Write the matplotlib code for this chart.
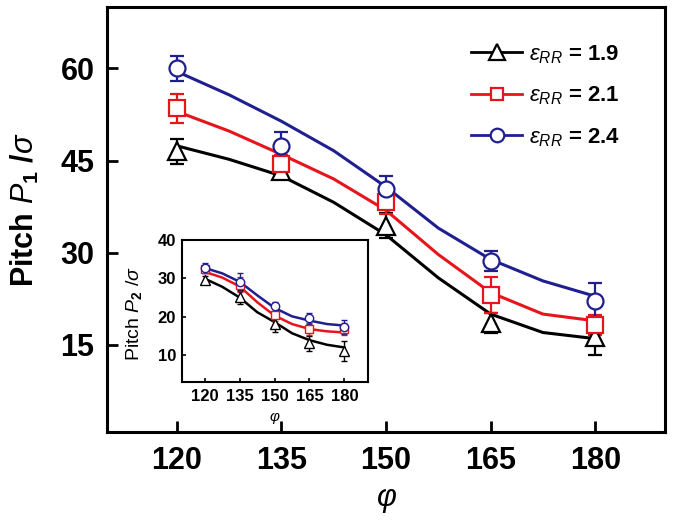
import matplotlib
matplotlib.use('Agg')
import matplotlib.pyplot as plt
from matplotlib.lines import Line2D

plt.rcParams['font.family'] = 'Liberation Sans'
plt.rcParams['mathtext.fontset'] = 'custom'
plt.rcParams['mathtext.it'] = 'Liberation Sans:italic:bold'
plt.rcParams['mathtext.rm'] = 'Liberation Sans:bold'
plt.rcParams['mathtext.bf'] = 'Liberation Sans:bold'

# --- data ---
phi = [120, 135, 150, 165, 180]
phi_fit = [120, 127.5, 135, 142.5, 150, 157.5, 165, 172.5, 180]
eps_labels = ['1.9', '2.1', '2.4']

# main panel: pitch P1 / sigma
p1_19 = [46.5, 43.3, 34.4, 18.6, 16.3]
p1_21 = [53.5, 44.4, 38.2, 23.1, 18.2]
p1_24 = [60.0, 47.3, 40.3, 28.6, 22.2]
p1_19_err = [2.0, 1.0, 2.0, 1.6, 3.0]
p1_21_err = [2.4, 1.5, 1.9, 3.0, 1.6]
p1_24_err = [2.0, 2.3, 2.2, 1.6, 2.8]
p1_19_fit = [47.4, 45.2, 42.5, 38.2, 32.9, 25.9, 20.0, 17.0, 16.0]
p1_21_fit = [53.0, 49.8, 46.0, 42.0, 36.9, 29.7, 23.5, 20.0, 18.9]
p1_24_fit = [59.5, 55.7, 51.4, 46.6, 40.7, 34.0, 28.9, 25.4, 22.9]

# inset: pitch P2 / sigma
p2_19 = [29.7, 25.1, 18.1, 13.1, 11.1]
p2_21 = [32.4, 28.4, 20.4, 16.8, 16.8]
p2_24 = [32.7, 29.1, 22.9, 19.6, 17.3]
p2_19_err = [0.8, 1.9, 2.2, 2.0, 2.6]
p2_21_err = [1.0, 2.0, 1.5, 1.5, 1.5]
p2_24_err = [1.3, 2.4, 1.0, 1.5, 1.8]
p2_19_fit = [29.9, 27.8, 25.0, 21.2, 18.6, 15.7, 13.9, 12.7, 12.0]
p2_21_fit = [31.7, 30.2, 27.9, 23.8, 20.3, 18.1, 16.8, 16.2, 15.9]
p2_24_fit = [32.7, 31.3, 29.1, 25.6, 22.3, 20.1, 19.0, 18.1, 17.7]

colors = ['black', '#e8141c', '#1f1f8f']
markers = ['^', 's', 'o']

fig = plt.figure(figsize=(6.75, 5.25), dpi=100)
ax = fig.add_axes([0.1585, 0.1771, 0.8267, 0.8096])

main_pts = [p1_19, p1_21, p1_24]
main_err = [p1_19_err, p1_21_err, p1_24_err]
main_fit = [p1_19_fit, p1_21_fit, p1_24_fit]
main_ms = [13, 11, 11.5]

for i in range(3):
    ax.plot(phi_fit, main_fit[i], color=colors[i], lw=2.2, zorder=2)
for i in range(3):
    ax.errorbar(phi, main_pts[i], yerr=main_err[i], fmt=markers[i], color=colors[i],
                mfc='white', mec=colors[i], mew=1.6, ms=main_ms[i],
                elinewidth=1.6, capsize=5, capthick=1.6, zorder=3)

ax.set_xlim(110, 190)
ax.set_ylim(0.8, 70)
ax.set_xticks(phi)
ax.set_yticks([15, 30, 45, 60])
ax.tick_params(direction='in', length=8, width=2, labelsize=22)
ax.tick_params(axis='y', pad=9)
ax.tick_params(axis='x', pad=10)
for lab in ax.get_xticklabels() + ax.get_yticklabels():
    lab.set_fontweight('bold')
for sp in ax.spines.values():
    sp.set_linewidth(2.2)

ax.set_xlabel(r'$\varphi$', fontsize=22)
ax.xaxis.set_label_coords(0.5, -0.125)
ax.set_ylabel(r'Pitch $P_{1}$ /$\sigma$', fontsize=22, fontweight='bold')
ax.yaxis.set_label_coords(-0.118, 0.522)

handles = []
for i in range(3):
    handles.append(Line2D([], [], color=colors[i], lw=2, marker=markers[i],
                          mfc='white', mec=colors[i], mew=1.6, ms=main_ms[i] * 0.85))
leg_labels = [r'$\varepsilon_{RR}$ = ' + e for e in eps_labels]
leg = ax.legend(handles, leg_labels, loc='upper left', frameon=False,
                bbox_to_anchor=(0.653, 0.915), fontsize=16, handlelength=2.3,
                handletextpad=0.3, labelspacing=0.85, borderpad=0, borderaxespad=0)
for t in leg.get_texts():
    t.set_fontweight('bold')

# inset
ins = fig.add_axes([0.269, 0.2724, 0.2756, 0.2705])
ins_pts = [p2_19, p2_21, p2_24]
ins_err = [p2_19_err, p2_21_err, p2_24_err]
ins_fit = [p2_19_fit, p2_21_fit, p2_24_fit]
ins_ms = [7, 6, 6]
for i in range(3):
    ins.plot(phi_fit, ins_fit[i], color=colors[i], lw=1.8, zorder=2)
for i in range(3):
    ins.errorbar(phi, ins_pts[i], yerr=ins_err[i], fmt=markers[i], color=colors[i],
                 mfc='white', mec=colors[i], mew=1.0, ms=ins_ms[i],
                 elinewidth=1.0, capsize=2, capthick=1.0, zorder=3)
ins.set_xlim(110, 190)
ins.set_ylim(3, 40)
ins.set_xticks(phi)
ins.set_yticks([10, 20, 30, 40])
ins.tick_params(direction='in', length=3, width=1.2, labelsize=12)
ins.tick_params(axis='y', pad=4)
ins.tick_params(axis='x', pad=5)
for lab in ins.get_xticklabels() + ins.get_yticklabels():
    lab.set_fontweight('bold')
for sp in ins.spines.values():
    sp.set_linewidth(1.5)
plt.rcParams['mathtext.it'] = 'Liberation Sans:italic'
ins.set_xlabel(r'$\varphi$', fontsize=11)
ins.xaxis.set_label_coords(0.5, -0.2)
ins.set_ylabel(r'Pitch $P_{2}$ /$\sigma$', fontsize=14)
ins.yaxis.set_label_coords(-0.2, 0.48)

fig.savefig('out.png', dpi=100)
